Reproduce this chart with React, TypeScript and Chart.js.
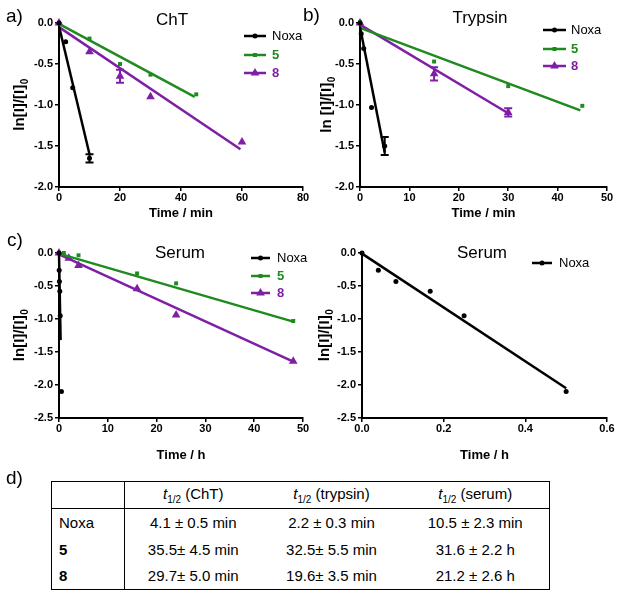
import React, { useEffect, useRef } from "react";
import { Chart, registerables } from "chart.js";

Chart.register(...registerables);

const FONT = "'Liberation Sans', Arial, Helvetica, sans-serif";
const BLACK = "#000000";
const GREEN = "#1F8A1F";
const PURPLE = "#7F1FA6";

// ---------- a) ChT (time in min) ----------
const chtNoxaT = [0, 2.2, 4.5, 10];
const chtNoxaY = [0, -0.23, -0.79, -1.65];
const chtNoxaErr = [0, 0, 0, 0.05];
const cht5T = [0, 10, 20, 30, 45];
const cht5Y = [0, -0.19, -0.5, -0.63, -0.87];
const cht8T = [0, 10, 20, 30, 60];
const cht8Y = [0, -0.35, -0.65, -0.9, -1.45];
const cht8Err = [0, 0, 0.08, 0, 0];
const chtNoxaFitT = [0, 10];
const chtNoxaFitY = [-0.04, -1.6];
const cht5FitT = [0, 44.5];
const cht5FitY = [-0.01, -0.9];
const cht8FitT = [0, 59.5];
const cht8FitY = [-0.05, -1.54];

// ---------- b) Trypsin (time in min) ----------
const tryNoxaT = [0, 0.25, 0.75, 2.33, 5];
const tryNoxaY = [0, -0.13, -0.31, -1.03, -1.5];
const tryNoxaErr = [0, 0, 0, 0, 0.11];
const try5T = [0, 15, 30, 45];
const try5Y = [0.01, -0.47, -0.77, -1.01];
const try8T = [0, 15, 30];
const try8Y = [0, -0.62, -1.09];
const try8Err = [0, 0.08, 0.05];
const tryNoxaFitT = [0, 5];
const tryNoxaFitY = [-0.05, -1.58];
const try5FitT = [0, 44.6];
const try5FitY = [-0.06, -1.065];
const try8FitT = [0, 30];
const try8FitY = [-0.02, -1.1];

// ---------- c) / d) Serum (time in h) ----------
const serNoxaT = [0, 0.04, 0.083, 0.167, 0.25, 0.5];
const serNoxaY = [0, -0.26, -0.43, -0.58, -0.95, -2.1];
const ser5T = [0, 1, 4, 16, 24, 48];
const ser5Y = [0, 0, -0.035, -0.31, -0.46, -1.03];
const ser8T = [0, 2, 4, 16, 24, 48];
const ser8Y = [0, -0.08, -0.19, -0.54, -0.94, -1.64];
const serNoxaFitCT = [0, 0.33];
const serNoxaFitCY = [0, -1.32];
const ser5FitT = [0, 48];
const ser5FitY = [-0.01, -1.04];
const ser8FitT = [0, 48];
const ser8FitY = [-0.02, -1.645];
const serNoxaFitDT = [0, 0.5];
const serNoxaFitDY = [-0.01, -2.05];

// ---------- d) table ----------
const tableHeaders = ["(ChT)", "(trypsin)", "(serum)"];
const tableCompounds = ["Noxa", "5", "8"];
const halfLifeChT = ["4.1 ± 0.5 min", "35.5± 4.5 min", "29.7± 5.0 min"];
const halfLifeTrypsin = ["2.2 ± 0.3 min", "32.5± 5.5 min", "19.6± 3.5 min"];
const halfLifeSerum = ["10.5 ± 2.3 min", "31.6 ± 2.2 h", "21.2 ± 2.6 h"];

const legendLabels = ["Noxa", "5", "8"];

function pts(t: number[], y: number[]) {
  return t.map((x, i) => ({ x, y: y[i] }));
}

function markerSet(label: string, t: number[], y: number[], color: string, style: string, radius: number, errors?: number[]) {
  return {
    type: "scatter",
    label,
    data: pts(t, y),
    pointStyle: style,
    pointRadius: radius,
    pointHoverRadius: radius,
    backgroundColor: color,
    borderColor: color,
    borderWidth: 0,
    showLine: false,
    clip: false,
    errors,
  };
}

function fitSet(t: number[], y: number[], color: string) {
  return {
    type: "scatter",
    label: "fit",
    data: pts(t, y),
    showLine: true,
    borderColor: color,
    backgroundColor: color,
    borderWidth: 2.5,
    pointRadius: 0,
    pointHoverRadius: 0,
    clip: false,
    fill: false,
  };
}

const errorBarPlugin = {
  id: "errorBars",
  afterDatasetsDraw(chart: any) {
    const ctx = chart.ctx;
    const ys = chart.scales.y;
    chart.data.datasets.forEach((ds: any, i: number) => {
      if (!ds.errors) return;
      const meta = chart.getDatasetMeta(i);
      ctx.save();
      ctx.strokeStyle = ds.borderColor;
      ctx.lineWidth = 2;
      ds.errors.forEach((e: number, j: number) => {
        if (!e) return;
        const p = meta.data[j];
        const v = ds.data[j].y;
        const top = ys.getPixelForValue(v + e);
        const bot = ys.getPixelForValue(v - e);
        ctx.beginPath();
        ctx.moveTo(p.x, top);
        ctx.lineTo(p.x, bot);
        ctx.moveTo(p.x - 4, top);
        ctx.lineTo(p.x + 4, top);
        ctx.moveTo(p.x - 4, bot);
        ctx.lineTo(p.x + 4, bot);
        ctx.stroke();
      });
      ctx.restore();
    });
  },
};

function drawMarker(ctx: CanvasRenderingContext2D, style: string, x: number, y: number, r: number) {
  ctx.beginPath();
  if (style === "circle") {
    ctx.arc(x, y, r, 0, Math.PI * 2);
  } else if (style === "rect") {
    const s = Math.SQRT1_2 * r;
    ctx.rect(x - s, y - s, 2 * s, 2 * s);
  } else {
    const h = r * 0.866;
    ctx.moveTo(x, y - r);
    ctx.lineTo(x + h, y + r * 0.5);
    ctx.lineTo(x - h, y + r * 0.5);
    ctx.closePath();
  }
  ctx.fill();
}

const decorPlugin = {
  id: "decor",
  afterDraw(chart: any, _args: any, opts: any) {
    const ctx: CanvasRenderingContext2D = chart.ctx;
    ctx.save();
    ctx.textBaseline = "middle";
    if (opts.panel) {
      ctx.font = `19px ${FONT}`;
      ctx.fillStyle = BLACK;
      ctx.textAlign = "left";
      ctx.fillText(opts.panel.text, opts.panel.x, opts.panel.y);
    }
    if (opts.title) {
      ctx.font = `17px ${FONT}`;
      ctx.fillStyle = BLACK;
      ctx.textAlign = "center";
      ctx.fillText(opts.title.text, opts.title.x, opts.title.y);
    }
    if (opts.yTitle) {
      const T = opts.yTitle;
      const ca = chart.chartArea;
      const cy = (ca.top + ca.bottom) / 2;
      ctx.save();
      ctx.translate(T.x, cy);
      ctx.rotate(-Math.PI / 2);
      ctx.fillStyle = BLACK;
      ctx.textAlign = "left";
      ctx.font = `bold 15px ${FONT}`;
      const wMain = ctx.measureText(T.text).width;
      ctx.font = `bold 10px ${FONT}`;
      const wSub = ctx.measureText(T.sub).width;
      const start = -(wMain + wSub) / 2;
      ctx.font = `bold 15px ${FONT}`;
      ctx.fillText(T.text, start, 0);
      ctx.font = `bold 10px ${FONT}`;
      ctx.fillText(T.sub, start + wMain + 0.5, 5);
      ctx.restore();
    }
    if (opts.legend) {
      const L = opts.legend;
      L.items.forEach((it: any, k: number) => {
        const y = L.ys[k];
        ctx.strokeStyle = it.color;
        ctx.fillStyle = it.color;
        ctx.lineWidth = 2.5;
        ctx.beginPath();
        ctx.moveTo(L.x1, y);
        ctx.lineTo(L.x2, y);
        ctx.stroke();
        drawMarker(ctx, it.style, (L.x1 + L.x2) / 2, y, it.radius);
        ctx.font = `${it.bold ? "bold " : ""}13px ${FONT}`;
        ctx.fillStyle = it.textColor;
        ctx.textAlign = "left";
        ctx.fillText(it.text, L.tx, y);
      });
    }
    ctx.restore();
  },
};

const noxaLeg = { text: legendLabels[0], color: BLACK, textColor: BLACK, bold: false, style: "circle", radius: 2.5 };
const fiveLeg = { text: legendLabels[1], color: GREEN, textColor: GREEN, bold: true, style: "rect", radius: 2.8 };
const eightLeg = { text: legendLabels[2], color: PURPLE, textColor: PURPLE, bold: true, style: "triangle", radius: 5 };

function makeConfig(p: any) {
  const axisCommon = {
    type: "linear",
    grid: {
      display: true,
      drawOnChartArea: false,
      drawTicks: true,
      tickLength: 4,
      color: BLACK,
      lineWidth: 1.5,
    },
    border: { display: true, color: BLACK, width: 2 },
  };
  return {
    type: "scatter",
    data: { datasets: p.datasets },
    plugins: [errorBarPlugin, decorPlugin],
    options: {
      animation: false,
      responsive: false,
      devicePixelRatio: 1,
      events: [],
      layout: { padding: p.padding },
      plugins: {
        legend: { display: false },
        tooltip: { enabled: false },
        title: { display: false },
        decor: p.decor,
      },
      scales: {
        x: {
          ...axisCommon,
          min: p.xMin,
          max: p.xMax,
          ticks: {
            stepSize: p.xStep,
            color: BLACK,
            font: { family: FONT, size: 11, weight: "bold" },
            padding: 0,
            maxRotation: 0,
            autoSkip: false,
            callback: (v: any) => Number(v).toFixed(p.xDec),
          },
          title: {
            display: true,
            text: p.xTitle,
            color: BLACK,
            font: { family: FONT, size: 13, weight: "bold" },
            padding: { top: 0, bottom: p.xTitlePad },
          },
          afterFit: (s: any) => {
            s.height = p.xAxisH;
          },
        },
        y: {
          ...axisCommon,
          min: p.yMin,
          max: 0,
          ticks: {
            stepSize: 0.5,
            color: BLACK,
            font: { family: FONT, size: 11, weight: "bold" },
            padding: 2,
            autoSkip: false,
            callback: (v: any) => Number(v).toFixed(1),
          },
          title: { display: false },
          afterFit: (s: any) => {
            s.width = p.yAxisW;
          },
        },
      },
    },
  };
}

function ChartPanel({ left, top, width, height, cfg }: any) {
  const ref = useRef<HTMLCanvasElement>(null);
  useEffect(() => {
    const chart = new Chart(ref.current as HTMLCanvasElement, makeConfig(cfg) as any);
    return () => chart.destroy();
  }, []);
  return (
    <div style={{ position: "absolute", left, top, width, height }}>
      <canvas ref={ref} width={width} height={height} style={{ display: "block", width, height }} />
    </div>
  );
}

const cfgA = {
  datasets: [
    markerSet("Noxa", chtNoxaT, chtNoxaY, BLACK, "circle", 2.5, chtNoxaErr),
    fitSet(chtNoxaFitT, chtNoxaFitY, BLACK),
    markerSet("5", cht5T, cht5Y, GREEN, "rect", 2.8),
    fitSet(cht5FitT, cht5FitY, GREEN),
    markerSet("8", cht8T, cht8Y, PURPLE, "triangle", 5, cht8Err),
    fitSet(cht8FitT, cht8FitY, PURPLE),
  ],
  xMin: 0, xMax: 80, xStep: 20, xDec: 0, yMin: -2,
  xTitle: "Time / min",
  padding: { left: 0, right: 7, top: 23, bottom: 0 },
  yAxisW: 59, xAxisH: 38, xTitlePad: 4,
  decor: {
    panel: { text: "a)", x: 6, y: 17 },
    title: { text: "ChT", x: 172, y: 20 },
    yTitle: { text: "ln[I]/[I]", sub: "0", x: 20 },
    legend: { x1: 244, x2: 266, tx: 272, ys: [36, 55, 73], items: [noxaLeg, fiveLeg, eightLeg] },
  },
};

const cfgB = {
  datasets: [
    markerSet("Noxa", tryNoxaT, tryNoxaY, BLACK, "circle", 2.5, tryNoxaErr),
    fitSet(tryNoxaFitT, tryNoxaFitY, BLACK),
    markerSet("5", try5T, try5Y, GREEN, "rect", 2.8),
    fitSet(try5FitT, try5FitY, GREEN),
    markerSet("8", try8T, try8Y, PURPLE, "triangle", 5, try8Err),
    fitSet(try8FitT, try8FitY, PURPLE),
  ],
  xMin: 0, xMax: 50, xStep: 10, xDec: 0, yMin: -2,
  xTitle: "Time / min",
  padding: { left: 0, right: 16, top: 23, bottom: 0 },
  yAxisW: 60, xAxisH: 38, xTitlePad: 4,
  decor: {
    panel: { text: "b)", x: 3, y: 16 },
    title: { text: "Trypsin", x: 180, y: 18 },
    yTitle: { text: "ln [I]/[I]", sub: "0", x: 27 },
    legend: { x1: 243, x2: 266, tx: 271, ys: [30, 49, 66], items: [noxaLeg, fiveLeg, eightLeg] },
  },
};

const cfgC = {
  datasets: [
    markerSet("Noxa", serNoxaT, serNoxaY, BLACK, "circle", 2.5),
    fitSet(serNoxaFitCT, serNoxaFitCY, BLACK),
    markerSet("5", ser5T, ser5Y, GREEN, "rect", 2.8),
    fitSet(ser5FitT, ser5FitY, GREEN),
    markerSet("8", ser8T, ser8Y, PURPLE, "triangle", 5),
    fitSet(ser8FitT, ser8FitY, PURPLE),
  ],
  xMin: 0, xMax: 50, xStep: 10, xDec: 0, yMin: -2.5,
  xTitle: "Time / h",
  padding: { left: 0, right: 7, top: 33, bottom: 0 },
  yAxisW: 59, xAxisH: 52, xTitlePad: 7,
  decor: {
    panel: { text: "c)", x: 7, y: 21 },
    title: { text: "Serum", x: 180, y: 33 },
    yTitle: { text: "ln[I]/[I]", sub: "0", x: 20 },
    legend: { x1: 251, x2: 270, tx: 277, ys: [38, 56, 73], items: [noxaLeg, fiveLeg, eightLeg] },
  },
};

const cfgD = {
  datasets: [
    markerSet("Noxa", serNoxaT, serNoxaY, BLACK, "circle", 2.5),
    fitSet(serNoxaFitDT, serNoxaFitDY, BLACK),
  ],
  xMin: 0, xMax: 0.6, xStep: 0.2, xDec: 1, yMin: -2.5,
  xTitle: "Time / h",
  padding: { left: 0, right: 16, top: 33, bottom: 0 },
  yAxisW: 62, xAxisH: 52, xTitlePad: 7,
  decor: {
    title: { text: "Serum", x: 182, y: 33 },
    yTitle: { text: "ln[I]/[I]", sub: "0", x: 25 },
    legend: { x1: 232, x2: 252, tx: 259, ys: [43], items: [noxaLeg] },
  },
};

const cell: React.CSSProperties = { padding: 0, textAlign: "center", verticalAlign: "middle" };

export default function App() {
  const halfLives = [halfLifeChT, halfLifeTrypsin, halfLifeSerum];
  return (
    <div style={{ position: "absolute", left: 0, top: 0, width: 623, height: 598, background: "#fff", overflow: "hidden", fontFamily: FONT }}>
      <ChartPanel left={0} top={0} width={310} height={225} cfg={cfgA} />
      <ChartPanel left={300} top={0} width={323} height={225} cfg={cfgB} />
      <ChartPanel left={0} top={220} width={310} height={250} cfg={cfgC} />
      <ChartPanel left={300} top={220} width={323} height={250} cfg={cfgD} />
      <div style={{ position: "absolute", left: 6, top: 467, fontSize: 19, lineHeight: "22px", color: BLACK }}>d)</div>
      <table
        style={{
          position: "absolute",
          left: 51,
          top: 481,
          width: 498,
          height: 109,
          borderCollapse: "collapse",
          border: "1.5px solid #000",
          fontSize: 15,
          color: BLACK,
          tableLayout: "fixed",
        }}
      >
        <colgroup>
          <col style={{ width: 73 }} />
          <col style={{ width: 137 }} />
          <col style={{ width: 140 }} />
          <col style={{ width: 148 }} />
        </colgroup>
        <tbody>
          <tr style={{ height: 27, borderBottom: "1.5px solid #000" }}>
            <td style={{ ...cell, borderRight: "1.5px solid #000" }}></td>
            {tableHeaders.map((h) => (
              <td key={h} style={cell}>
                <i>t</i>
                <sub style={{ fontSize: 10 }}>1/2</sub> {h}
              </td>
            ))}
          </tr>
          {tableCompounds.map((c, r) => (
            <tr key={c} style={{ height: 27 }}>
              <td style={{ ...cell, textAlign: "left", paddingLeft: 7, borderRight: "1.5px solid #000", fontWeight: r === 0 ? "normal" : "bold" }}>{c}</td>
              {halfLives.map((col, k) => (
                <td key={k} style={cell}>
                  {col[r]}
                </td>
              ))}
            </tr>
          ))}
        </tbody>
      </table>
    </div>
  );
}
